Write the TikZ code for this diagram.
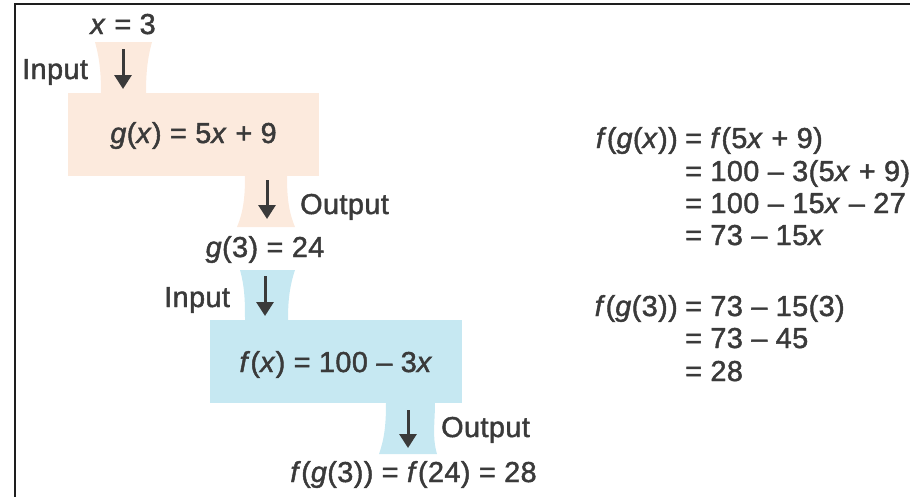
\documentclass[tikz,border=0pt]{standalone}
\usepackage{fontspec}
\setmainfont{Liberation Sans}[FakeBold=1.6, LetterSpace=1.5]
\usetikzlibrary{arrows.meta}
\definecolor{txt}{HTML}{3A3A3A}
\definecolor{peach}{HTML}{FCEADD}
\definecolor{lblue}{HTML}{C6E8F2}
\definecolor{frame}{HTML}{1E1E1E}
\tikzset{
  lbl/.style={inner sep=0pt, text=txt, font=\fontsize{28.8}{34}\selectfont},
  flowarrow/.style={draw=txt, line width=3pt, -{Triangle[width=17pt,length=14pt]}},
}
\begin{document}
\begin{tikzpicture}[x=1pt,y=-1pt]
\useasboundingbox (0,0) rectangle (910,496);
\clip (0,0) rectangle (910,496);
% frame
\draw[frame, line width=2.2pt] (15,505) -- (15,4) -- (920,4);

% peach machine g
\fill[peach] (68,93) rectangle (319,176);
\fill[peach] (95,42) .. controls (100,60) and (101,75) .. (101,94) -- (146,94) .. controls (146,75) and (147,60) .. (152,42) -- cycle;
\fill[peach] (245,175) .. controls (245,195) and (244,210) .. (237,227) -- (295,227) .. controls (288,210) and (287,195) .. (287,175) -- cycle;

% blue machine f
\fill[lblue] (210,320) rectangle (462,403);
\fill[lblue] (240,270) .. controls (245,288) and (245,303) .. (245,321) -- (288,321) .. controls (288,303) and (289,288) .. (295,270) -- cycle;
\fill[lblue] (386,402) .. controls (386,422) and (385,437) .. (379,454) -- (437,454) .. controls (432,437) and (435,422) .. (435,402) -- cycle;

% arrows
\coordinate (a1s) at (123,49);  \coordinate (a1e) at (123,89);
\coordinate (a2s) at (267,180); \coordinate (a2e) at (267,219);
\coordinate (a3s) at (265,276); \coordinate (a3e) at (265,316);
\coordinate (a4s) at (408,410); \coordinate (a4e) at (408,448);
\draw[flowarrow] (a1s) -- (a1e);
\draw[flowarrow] (a2s) -- (a2e);
\draw[flowarrow] (a3s) -- (a3e);
\draw[flowarrow] (a4s) -- (a4e);

% left texts
\node[lbl, anchor=base] (x3) at (123,34) {\textit{x} = 3};
\node[lbl, anchor=base west] (in1) at (22,79) {Input};
\node[lbl, anchor=base] (gx) at (193.5,143) {\textit{g}(\textit{x}) = 5\textit{x} + 9};
\node[lbl, anchor=base west] (out1) at (300,214) {Output};
\node[lbl, anchor=base] (g3) at (265,257) {\textit{g}(3) = 24};
\node[lbl, anchor=base west] (in2) at (164,307) {Input};
\node[lbl, anchor=base] (fx) at (336,372) {\textit{f}(\textit{x}) = 100 – 3\textit{x}};
\node[lbl, anchor=base west] (out2) at (441,437) {Output};
\node[lbl, anchor=base] (fg3) at (413.5,482) {\textit{f}(\textit{g}(3)) = \textit{f}(24) = 28};

% right equations
\node[lbl, anchor=base east] (l1) at (678,148) {\textit{f}(\textit{g}(\textit{x}))};
\node[lbl, anchor=base west] (r1) at (685,148) {= \textit{f}(5\textit{x} + 9)};
\node[lbl, anchor=base west] (r2) at (685,181) {= 100 – 3(5\textit{x} + 9)};
\node[lbl, anchor=base west] (r3) at (685,213) {= 100 – 15\textit{x} – 27};
\node[lbl, anchor=base west] (r4) at (685,245) {= 73 – 15\textit{x}};

\node[lbl, anchor=base east] (l5) at (678,316) {\textit{f}(\textit{g}(3))};
\node[lbl, anchor=base west] (r5) at (685,316) {= 73 – 15(3)};
\node[lbl, anchor=base west] (r6) at (685,348) {= 73 – 45};
\node[lbl, anchor=base west] (r7) at (685,381) {= 28};
\end{tikzpicture}
\end{document}
